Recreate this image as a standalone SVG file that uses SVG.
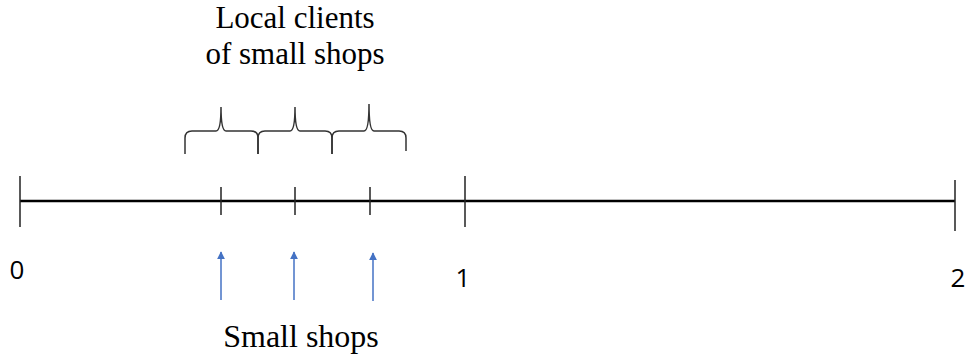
<svg xmlns="http://www.w3.org/2000/svg" width="968" height="360" viewBox="0 0 968 360">
<defs>
<style>
.axis{stroke:#000;stroke-width:2.5;fill:none}
.tick{stroke:#222;stroke-width:1.5;fill:none}
.brace{stroke:#333;stroke-width:1.5;fill:none}
.arr{stroke:#4472C4;stroke-width:1.5;fill:none}
.num{font-family:"Open Sans","Liberation Sans",sans-serif;font-size:26px;fill:#000}
.lbl{font-family:"Liberation Serif",serif;font-size:32px;fill:#000}
.ttl{font-family:"Liberation Serif",serif;font-size:31px;fill:#000}
</style>
<marker id="ah" viewBox="0 0 10 10" refX="9" refY="5" markerWidth="8" markerHeight="8" markerUnits="userSpaceOnUse" orient="auto">
<path d="M0,0 L10,5 L0,10 z" fill="#4472C4"/>
</marker>
</defs>
<rect width="968" height="360" fill="#fff"/>
<g id="axis">
<line class="axis" x1="20" y1="201" x2="955" y2="201"/>
<line class="tick" x1="20" y1="176" x2="20" y2="227"/>
<line class="tick" x1="221" y1="187" x2="221" y2="215"/>
<line class="tick" x1="295" y1="187" x2="295" y2="215"/>
<line class="tick" x1="370" y1="187" x2="370" y2="215"/>
<line class="tick" x1="465" y1="176" x2="465" y2="227"/>
<line class="tick" x1="955" y1="180" x2="955" y2="231"/>
</g>
<g id="labels-num">
<text class="num" x="17" y="279" text-anchor="middle">0</text>
<text class="num" x="463" y="287" text-anchor="middle">1</text>
<text class="num" x="958" y="287" text-anchor="middle">2</text>
</g>
<g id="braces">
<path class="brace" d="M185,154 L185,138 Q185,131 192,131 H216 Q221,131 221,107 Q221,131 226,131 H251 Q258,131 258,138 L258,154"/>
<path class="brace" d="M258,154 L258,138 Q258,131 265,131 H290 Q295,131 295,107 Q295,131 300,131 H325 Q332,131 332,138 L332,154"/>
<path class="brace" d="M332,154 L332,138 Q332,131 339,131 H364 Q369,131 369,104 Q369,131 374,131 H399 Q406,131 406,138 L406,151"/>
</g>
<g id="title">
<text class="ttl" x="295" y="28" text-anchor="middle">Local clients</text>
<text class="ttl" x="295" y="64" text-anchor="middle">of small shops</text>
</g>
<g id="connectors">
<line class="arr" x1="221" y1="300" x2="221" y2="252" marker-end="url(#ah)"/>
<line class="arr" x1="294" y1="300" x2="294" y2="252" marker-end="url(#ah)"/>
<line class="arr" x1="373" y1="301" x2="373" y2="253" marker-end="url(#ah)"/>
</g>
<g id="small-shops">
<text class="lbl" x="301" y="347" text-anchor="middle">Small shops</text>
</g>
</svg>
